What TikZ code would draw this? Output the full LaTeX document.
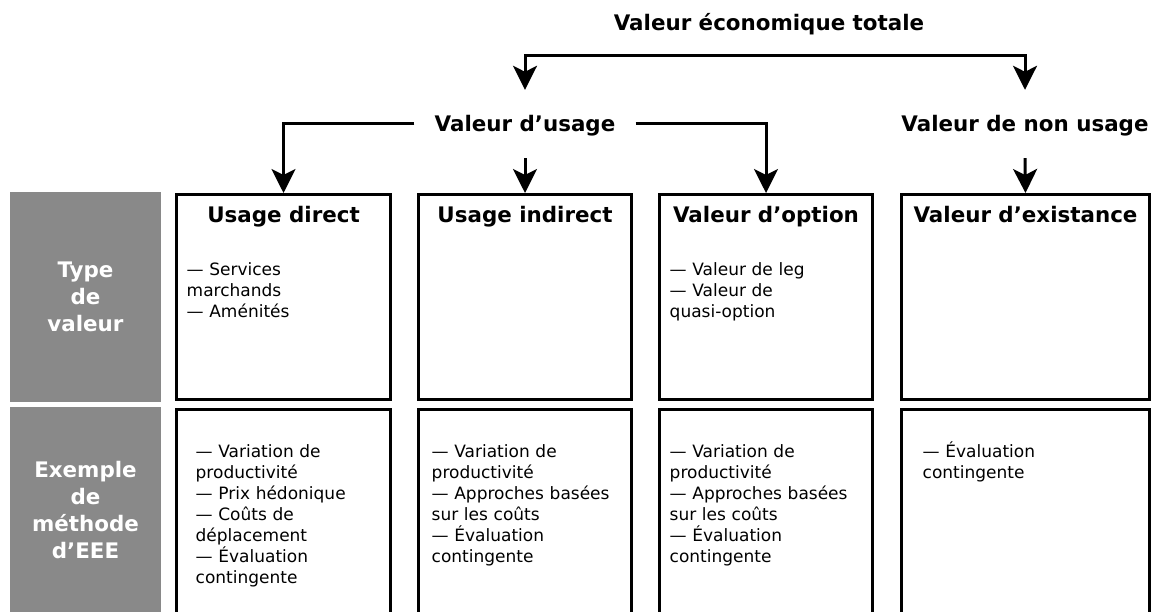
\documentclass[tikz,border=0pt]{standalone}
\usepackage{fontspec}
\setmainfont{DejaVu Sans}
\usetikzlibrary{arrows.meta,positioning}
\definecolor{grisfond}{RGB}{137,137,137}
\tikzset{
  fleche/.style={line width=3pt, -{Stealth[length=24pt 0 0, width=24pt 0 0, inset=6pt 0 0]}},
  cadre/.style={rectangle, draw, line width=3pt, minimum width=213pt, minimum height=205pt, inner sep=0pt},
  cadrebas/.style={cadre, minimum height=230.5pt},
  entete/.style={font=\fontsize{21.4}{26}\selectfont\bfseries, anchor=base, inner sep=0pt},
  liste/.style={font=\fontsize{17}{21}\selectfont, anchor=base west, align=left, inner sep=0pt, text width=200pt},
  gris/.style={rectangle, fill=grisfond, text=white, font=\fontsize{21.4}{27}\selectfont\bfseries, align=center, minimum width=151pt},
  niveau/.style={font=\fontsize{21.4}{26}\selectfont\bfseries, minimum height=68pt, inner xsep=20pt, inner ysep=0pt, text height=19pt, text depth=4pt},
}

\begin{document}
\begin{tikzpicture}[x=1pt, y=-1pt]
    \clip (0,0) rectangle (1155,612);

    % niveaux du haut
    \node[font=\fontsize{21.4}{26}\selectfont\bfseries, anchor=base] (total) at (769,31) {Valeur économique totale} ;
    \coordinate (bus) at (769,56) ;
    \node[niveau] (usage) at (525,124) {Valeur d’usage} ;
    \node[niveau] (nonusage) at (1025,124) {Valeur de non usage} ;

    % colonne de gauche
    \node[gris, minimum height=210pt] (g_type) at (85.5,297) {Type\\de\\valeur} ;
    \node[gris, minimum height=207pt] (g_methode) at (85.5,510.5) {Exemple\\de\\méthode\\d’EEE} ;

    % cadres du haut
    \node[cadre, minimum width=214pt] (direct) at (283.5,297) {} ;
    \node[cadre] (indirect) at (525,297) {} ;
    \node[cadre] (option) at (766,297) {} ;
    \node[cadre, minimum width=248pt] (existance) at (1025.5,297) {} ;

    % cadres du bas
    \node[cadrebas, minimum width=214pt] (direct_m) at (283.5,524.75) {} ;
    \node[cadrebas] (indirect_m) at (525,524.75) {} ;
    \node[cadrebas] (option_m) at (766,524.75) {} ;
    \node[cadrebas, minimum width=248pt] (existance_m) at (1025.5,524.75) {} ;

    \node[entete, yshift=-29.5pt] (direct_t) at (direct.north) {Usage direct} ;
    \node[entete, yshift=-29.5pt] (indirect_t) at (indirect.north) {Usage indirect} ;
    \node[entete, yshift=-29.5pt] (option_t) at (option.north) {Valeur d’option} ;
    \node[entete, yshift=-29.5pt] (existance_t) at (existance.north) {Valeur d’existance} ;

    \node[liste, xshift=11.5pt, yshift=-82pt] (direct_l) at (direct.north west) {— Services\\marchands\\— Aménités} ;
    \node[liste, xshift=11.5pt, yshift=-82pt] (option_l) at (option.north west) {— Valeur de leg\\— Valeur de\\quasi-option} ;

    \node[liste, xshift=20.5pt, yshift=-49pt] (direct_ml) at (direct_m.north west) {— Variation de\\productivité\\— Prix hédonique\\— Coûts de\\déplacement\\— Évaluation\\contingente} ;
    \node[liste, xshift=14.5pt, yshift=-49pt] (indirect_ml) at (indirect_m.north west) {— Variation de\\productivité\\— Approches basées\\sur les coûts\\— Évaluation\\contingente} ;
    \node[liste, xshift=11.5pt, yshift=-49pt] (option_ml) at (option_m.north west) {— Variation de\\productivité\\— Approches basées\\sur les coûts\\— Évaluation\\contingente} ;
    \node[liste, xshift=22.5pt, yshift=-49pt] (existance_ml) at (existance_m.north west) {— Évaluation\\contingente} ;

    % fleches
    \draw[fleche] (bus) -| (usage.north) ;
    \draw[fleche] (bus) -| (nonusage.north) ;
    \draw[fleche] (usage.west) -| (direct.north) ;
    \draw[fleche] (usage.east) -| (option.north) ;
    \draw[fleche] (usage.south) -- (indirect.north) ;
    \draw[fleche] (nonusage.south) -- (existance.north) ;

\end{tikzpicture}
\end{document}
